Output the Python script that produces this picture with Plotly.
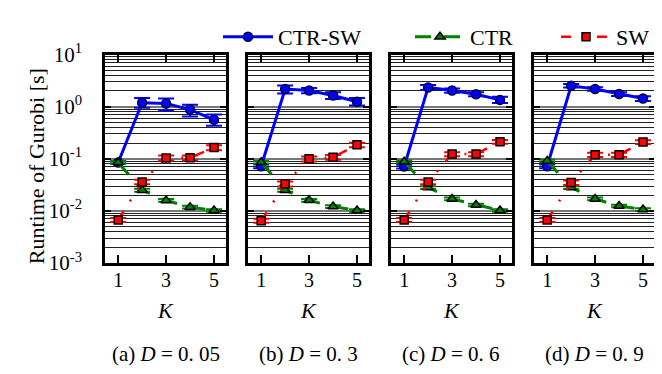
import plotly.graph_objects as go

# ---------------- data ----------------
K = [1, 2, 3, 4, 5]
x_tick_vals = [1, 3, 5]
y_tick_vals = [0.001, 0.01, 0.1, 1, 10]
y_tick_text = ["10<sup>-3</sup>", "10<sup>-2</sup>", "10<sup>-1</sup>", "10<sup>0</sup>", "10<sup>1</sup>"]
captions = ["(a) <i>D</i> = 0. 05", "(b) <i>D</i> = 0. 3", "(c) <i>D</i> = 0. 6", "(d) <i>D</i> = 0. 9"]
series_names = ["CTR-SW", "CTR", "SW"]

# CTR-SW (mean, +err, -err) per panel
ctrsw_a = [0.085, 1.19, 1.15, 0.88, 0.56]
ctrsw_a_up = [0.005, 0.28, 0.28, 0.21, 0.15]
ctrsw_a_dn = [0.005, 0.24, 0.30, 0.23, 0.13]
ctrsw_b = [0.072, 2.18, 2.04, 1.64, 1.24]
ctrsw_b_up = [0.006, 0.36, 0.24, 0.26, 0.22]
ctrsw_b_dn = [0.006, 0.38, 0.22, 0.23, 0.19]
ctrsw_c = [0.071, 2.34, 2.04, 1.73, 1.35]
ctrsw_c_up = [0.006, 0.27, 0.20, 0.17, 0.20]
ctrsw_c_dn = [0.006, 0.24, 0.18, 0.15, 0.17]
ctrsw_d = [0.072, 2.51, 2.18, 1.75, 1.43]
ctrsw_d_up = [0.006, 0.20, 0.18, 0.15, 0.16]
ctrsw_d_dn = [0.006, 0.18, 0.16, 0.14, 0.14]

# CTR
ctr_a = [0.085, 0.025, 0.0159, 0.0118, 0.0102]
ctr_b = [0.086, 0.025, 0.016, 0.0121, 0.0102]
ctr_c = [0.088, 0.028, 0.017, 0.013, 0.0102]
ctr_d = [0.091, 0.028, 0.017, 0.0124, 0.0106]
ctr_err = [0.005, 0.0016, 0.001, 0.0007, 0.0006]

# SW
sw_a = [0.0067, 0.036, 0.104, 0.105, 0.164]
sw_b = [0.0065, 0.033, 0.100, 0.107, 0.185]
sw_c = [0.0067, 0.036, 0.123, 0.123, 0.212]
sw_d = [0.0067, 0.035, 0.119, 0.119, 0.210]
sw_err = [0.0006, 0.0035, 0.011, 0.011, 0.018]

# ---------------- build ----------------
W, H = 662, 374
panel_left = [97, 240, 383, 526]
panel_w = 121
y_top, y_bot = 35, 259

FONT = "Liberation Serif"

ctrsw_sets = [(ctrsw_a, ctrsw_a_up, ctrsw_a_dn), (ctrsw_b, ctrsw_b_up, ctrsw_b_dn),
              (ctrsw_c, ctrsw_c_up, ctrsw_c_dn), (ctrsw_d, ctrsw_d_up, ctrsw_d_dn)]
ctr_sets = [ctr_a, ctr_b, ctr_c, ctr_d]
sw_sets = [sw_a, sw_b, sw_c, sw_d]

fig = go.Figure()
for i in range(4):
    xa = "x" if i == 0 else f"x{i+1}"
    ya = "y" if i == 0 else f"y{i+1}"
    v, up, dn = ctrsw_sets[i]
    fig.add_trace(go.Scatter(
        x=K, y=v, xaxis=xa, yaxis=ya, mode="lines+markers", name=series_names[0],
        legend="legend", showlegend=(i == 0),
        line=dict(color="#0000ff", width=3),
        marker=dict(symbol="circle", size=9, color="#0000ff", line=dict(color="#000033", width=1.5)),
        error_y=dict(type="data", array=up, arrayminus=dn, color="#0000ff", thickness=2, width=8),
    ))
    fig.add_trace(go.Scatter(
        x=K, y=ctr_sets[i], xaxis=xa, yaxis=ya, mode="lines+markers", name=series_names[1],
        legend="legend2", showlegend=(i == 0),
        line=dict(color="#008000", width=3, dash="16px,13px"),
        marker=dict(symbol="triangle-up", size=9, color="#008000", line=dict(color="black", width=1.5)),
        error_y=dict(type="data", array=ctr_err, color="#008000", thickness=2, width=8),
    ))
    fig.add_trace(go.Scatter(
        x=K, y=sw_sets[i], xaxis=xa, yaxis=ya, mode="lines+markers", name=series_names[2],
        legend="legend3", showlegend=(i == 0),
        line=dict(color="#ff0000", width=2.5, dash="10px,12px,2px,12px"),
        marker=dict(symbol="square", size=8, color="#ff0000", line=dict(color="black", width=1.5)),
        error_y=dict(type="data", array=sw_err, color="#ff0000", thickness=2, width=8),
    ))

minor_vals = [m * 10 ** e for e in range(-3, 1) for m in range(2, 10)]

layout = dict(
    width=W, height=H, margin=dict(l=0, r=0, t=0, b=0),
    paper_bgcolor="white", plot_bgcolor="white",
    font=dict(family=FONT, size=20, color="black"),
    annotations=[],
)
for i in range(4):
    xk = "xaxis" if i == 0 else f"xaxis{i+1}"
    yk = "yaxis" if i == 0 else f"yaxis{i+1}"
    ya = "y" if i == 0 else f"y{i+1}"
    xa = "x" if i == 0 else f"x{i+1}"
    x0 = panel_left[i] / W
    x1 = (panel_left[i] + panel_w) / W
    layout[xk] = dict(
        domain=[x0, x1], anchor=ya, range=[0.45, 5.5],
        tickmode="array", tickvals=x_tick_vals, ticks="inside", ticklen=8, tickwidth=1.5,
        tickcolor="black", mirror="ticks", showline=True, linecolor="black", linewidth=2.5,
        showgrid=False, zeroline=False, tickfont=dict(family=FONT, size=20),
        ticklabelstandoff=-3,
    )
    layout[yk] = dict(
        domain=[1 - y_bot / H, 1 - y_top / H], anchor=xa, type="log", range=[-3, 1],
        tickmode="array", tickvals=y_tick_vals, ticktext=y_tick_text,
        showticklabels=(i == 0), ticks="inside", ticklen=6, tickwidth=1.5, tickcolor="black",
        mirror="ticks", showline=True, linecolor="black", linewidth=2.5,
        showgrid=True, gridcolor="#777777", gridwidth=2, zeroline=False,
        minor=dict(tickvals=minor_vals, showgrid=True, gridcolor="#222222", gridwidth=1,
                   ticks=""),
        tickfont=dict(family=FONT, size=21), ticklabelstandoff=16,
    )
    cx = (panel_left[i] + panel_w / 2) / W
    layout["annotations"].append(dict(
        text="<i>K</i>", x=cx, y=1 - 310 / H, xref="paper", yref="paper",
        showarrow=False, font=dict(family=FONT, size=22), xanchor="center", yanchor="middle"))
    layout["annotations"].append(dict(
        text=captions[i], x=cx, y=1 - 357 / H, xref="paper", yref="paper",
        showarrow=False, font=dict(family=FONT, size=21), xanchor="center", yanchor="middle"))

layout["annotations"].append(dict(
    text="Runtime of Gurobi [s]", x=28 / W, y=1 - 155 / H, xref="paper", yref="paper",
    showarrow=False, textangle=-90, font=dict(family=FONT, size=22),
    xanchor="center", yanchor="middle"))

leg_common = dict(orientation="h", yanchor="middle", xanchor="left", y=1 - 16 / H,
                  bgcolor="rgba(0,0,0,0)", font=dict(family=FONT, size=22),
                  itemwidth=50, borderwidth=0)
layout["legend"] = dict(leg_common, x=210 / W)
layout["legend2"] = dict(leg_common, x=402 / W)
layout["legend3"] = dict(leg_common, x=548 / W)

fig.update_layout(**layout)
fig.write_html("out.html")
